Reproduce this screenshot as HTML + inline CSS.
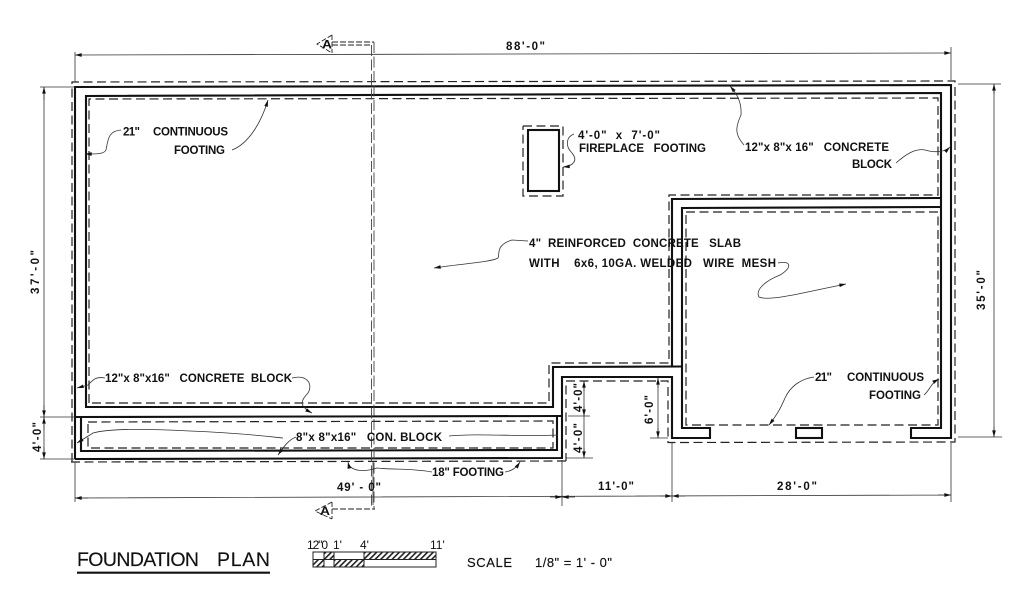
<!DOCTYPE html>
<html>
<head>
<meta charset="utf-8">
<style>
html,body{margin:0;padding:0;background:#fff;width:1024px;height:600px;overflow:hidden}
svg{display:block;filter:blur(.3px)}
text{font-family:"Liberation Sans",sans-serif;fill:#111;white-space:pre}
.b{font-weight:bold;font-size:11.5px}
.r{font-size:13px;stroke:#111;stroke-width:.15}
.w{fill:none;stroke:#111;stroke-width:2.1;stroke-linejoin:miter}
.d{fill:none;stroke:#222;stroke-width:1.2;stroke-dasharray:9 4.5}
.s{fill:none;stroke:#444;stroke-width:.9;stroke-dasharray:11 3.500}
.t{fill:none;stroke:#333;stroke-width:.8}
.l{fill:none;stroke:#333;stroke-width:.8}
</style>
</head>
<body>
<svg width="1024" height="600" viewBox="0 0 1024 600" xmlns="http://www.w3.org/2000/svg">
<defs>
<marker id="a" viewBox="0 0 8 6" refX="8" refY="3" markerWidth="7" markerHeight="5" markerUnits="userSpaceOnUse" orient="auto"><path d="M0 .8L8 3L0 5.2Z" fill="#111"/></marker>
<marker id="as" viewBox="0 0 8 6" refX="0" refY="3" markerWidth="7" markerHeight="5" markerUnits="userSpaceOnUse" orient="auto"><path d="M8 .8L0 3L8 5.2Z" fill="#111"/></marker>
<pattern id="h" width="4" height="4" patternUnits="userSpaceOnUse" patternTransform="rotate(45)"><rect width="4" height="4" fill="#fff"/><rect width="1.6" height="4" fill="#222"/></pattern>
</defs>
<rect width="1024" height="600" fill="#fff"/>

<!-- walls -->
<path class="w" d="M682 366.5L553 367L553 407L86 407L86 96L941 93L941 428L911 428L911 438L951 438L951 85L75 87L75 459"/>
<path class="w" d="M75 459L562 458L562 377L672 377L672 438L710 438L710 428L682 428L682 208L941 207"/>
<path class="w" d="M672 366L672 199L941 198"/>
<path class="w" d="M75 417L562 416"/>
<path class="w" d="M81 417L81 451L557 450L557 416"/>
<rect class="w" x="796" y="428" width="26" height="10"/>
<rect class="w" x="528" y="130" width="31" height="61"/>

<!-- footing dashes -->
<path class="d" d="M566 461L70 462M72 462L72 82L955 81L955 442L668 442.5L668 381L566 381L566 461"/>
<path class="d" d="M89 403L89 99L938 98L938 195L669 195L669 363L549 363L549 403L89 403"/>
<path class="d" d="M686 212L938 212L938 425L686 425L686 212"/>
<path class="d" d="M88 422L553 421L553 448L88 448L88 422"/>
<path class="d" d="M523 126L563 126L563 196L523 196L523 126"/>

<!-- section line A -->
<path class="s" d="M371.5 45L371.5 507M374 42L374 509"/>
<path class="d" style="stroke-dasharray:6 2;stroke-width:.9" d="M332 42L374 42M332 45L371 45M332 509L375 509"/>
<path class="d" style="stroke-dasharray:5 2;stroke-width:.9" d="M332 35L317 44L332 53M332 35L332 53M332 502L315 511L332 519M332 502L332 519"/>
<text class="b" x="322" y="48.500" textLength="10" lengthAdjust="spacingAndGlyphs">A</text>
<text class="b" x="320" y="515" textLength="10" lengthAdjust="spacingAndGlyphs">A</text>

<!-- dimensions -->
<path class="t" d="M75 55L951 53" marker-start="url(#as)" marker-end="url(#a)"/>
<path class="t" d="M75 52L75 82M951 47L951 80M40 87L75 87M40 417L75 417M40 459L75 459M44 87L44 459"/>
<path class="t" d="M44 87L44 100" marker-start="url(#as)"/>
<path class="t" d="M44 417L44 405" marker-start="url(#as)"/>
<path class="t" d="M44 417L44 430" marker-start="url(#as)"/>
<path class="t" d="M44 459L44 447" marker-start="url(#as)"/>
<path class="t" d="M958 84L1001 84M958 437L1002 437M994 84L994 437"/>
<path class="t" d="M994 84L994 94" marker-start="url(#as)"/>
<path class="t" d="M994 437L994 427" marker-start="url(#as)"/>
<path class="t" d="M75 498L951 495M75 462L75 502M562 460L562 506M672 443L672 502M951 443L951 502M373 505L373 462"/>
<path class="t" d="M75 498L88 498" marker-start="url(#as)"/>
<path class="t" d="M562 497L550 497" marker-start="url(#as)"/>
<path class="t" d="M562 497L575 497" marker-start="url(#as)"/>
<path class="t" d="M672 496L660 496" marker-start="url(#as)"/>
<path class="t" d="M672 496L685 496" marker-start="url(#as)"/>
<path class="t" d="M951 495L938 495" marker-start="url(#as)"/>
<path class="t" d="M584 381L584 458M568 416L590 416M566 458L593 458"/>
<path class="t" d="M584 381L584 391" marker-start="url(#as)"/>
<path class="t" d="M584 416L584 406" marker-start="url(#as)"/>
<path class="t" d="M584 458L584 448" marker-start="url(#as)"/>
<path class="t" d="M658 378L658 438M650 438L668 438"/>
<path class="t" d="M658 378L658 388" marker-start="url(#as)"/>
<path class="t" d="M658 438L658 428" marker-start="url(#as)"/>

<!-- leaders -->
<path class="l" marker-end="url(#a)" d="M121 130C108 131 108 140 106 150C104 154 98 154 85 154"/>
<path class="l" marker-end="url(#a)" d="M232 150C250 143 262 120 268 100"/>
<path class="l" marker-end="url(#a)" d="M574 134C566 137 565 146 572 153C578 160 574 166 563 167"/>
<path class="l" marker-end="url(#a)" d="M744 145C735 135 735 128 741 115C742 100 735 92 730 86"/>
<path class="l" marker-end="url(#a)" d="M896 163C905 155 915 148 925 150C935 153 945 152 950 147"/>
<path class="l" marker-end="url(#a)" d="M528 241L512 240C495 245 500 255 498 258C492 262 460 264 434 268"/>
<path class="l" marker-end="url(#a)" d="M778 263C792 260 792 268 780 275C765 281 755 290 759 297C770 302 810 291 846 284"/>
<path class="l" marker-end="url(#a)" d="M105 378C95 376 92 381 88 385L77 388"/>
<path class="l" marker-end="url(#a)" d="M292 378C308 374 313 385 308 393C302 400 297 405 312 413"/>
<path class="l" marker-end="url(#a)" d="M283 438C265 436 240 433 190 431C150 429 110 428 93 433L77 443"/>
<path class="l" marker-end="url(#a)" d="M296 437C288 440 283 448 278 455"/>
<path class="l" d="M449 436C480 433 520 437 558 435"/>
<path class="l" marker-end="url(#a)" d="M432 472C410 468 395 470 377 468C365 472 350 472 348 462"/>
<path class="l" marker-end="url(#a)" d="M505 472C512 471 516 468 520 462"/>
<path class="l" marker-end="url(#a)" d="M814 377C800 379 790 387 785 398C781 407 779 412 769 425"/>
<path class="l" marker-end="url(#a)" d="M924 395C930 390 930 384 939 379"/>

<!-- labels -->
<text class="b" x="123" y="135.500" textLength="17" lengthAdjust="spacing">21"</text>
<text class="b" x="153" y="135.500" textLength="75" lengthAdjust="spacing">CONTINUOUS</text>
<text class="b" x="174" y="154" textLength="51" lengthAdjust="spacing">FOOTING</text>
<text class="b" x="578" y="139" textLength="82" lengthAdjust="spacing">4'-0"  x  7'-0"</text>
<text class="b" x="579" y="152" textLength="127" lengthAdjust="spacing">FIREPLACE   FOOTING</text>
<text class="b" x="745" y="151" textLength="144" lengthAdjust="spacing">12"x 8"x 16"   CONCRETE</text>
<text class="b" x="852" y="168" textLength="40" lengthAdjust="spacing">BLOCK</text>
<text class="b" x="529" y="247" textLength="212" lengthAdjust="spacing">4"  REINFORCED  CONCRETE   SLAB</text>
<text class="b" x="529" y="267" textLength="247" lengthAdjust="spacing">WITH    6x6, 10GA. WELDED   WIRE  MESH</text>
<text class="b" x="105" y="382" textLength="187" lengthAdjust="spacing">12"x 8"x16"   CONCRETE  BLOCK</text>
<text class="b" x="296" y="441" textLength="146" lengthAdjust="spacing">8"x 8"x16"   CON. BLOCK</text>
<text class="b" x="432" y="476" textLength="72" lengthAdjust="spacing">18" FOOTING</text>
<text class="b" x="337" y="491" textLength="44" lengthAdjust="spacing">49' - 0"</text>
<text class="b" x="598" y="490" textLength="36" lengthAdjust="spacing">11'-0"</text>
<text class="b" x="777" y="490" textLength="40" lengthAdjust="spacing">28'-0"</text>
<text class="b" x="815" y="381" textLength="17" lengthAdjust="spacing">21"</text>
<text class="b" x="847" y="381" textLength="77" lengthAdjust="spacing">CONTINUOUS</text>
<text class="b" x="869" y="399" textLength="52" lengthAdjust="spacing">FOOTING</text>
<text class="b" x="506" y="50" textLength="39" lengthAdjust="spacing">88'-0"</text>
<text class="b" transform="translate(39 294) rotate(-90)" textLength="44" lengthAdjust="spacing">37'-0"</text>
<text class="b" transform="translate(41 452) rotate(-90)" textLength="30" lengthAdjust="spacing">4'-0"</text>
<text class="b" transform="translate(985 310) rotate(-90)" textLength="40" lengthAdjust="spacing">35'-0"</text>
<text class="b" transform="translate(582 412) rotate(-90)" textLength="29" lengthAdjust="spacing">4'-0"</text>
<text class="b" transform="translate(582 453) rotate(-90)" textLength="30" lengthAdjust="spacing">4'-0"</text>
<text class="b" transform="translate(653 424) rotate(-90)" textLength="29" lengthAdjust="spacing">6'-0"</text>

<!-- title -->
<text class="r" x="77" y="566" style="font-size:19.5px" textLength="122" lengthAdjust="spacing">FOUNDATION</text>
<text class="r" x="217" y="566" style="font-size:19.5px" textLength="53" lengthAdjust="spacing">PLAN</text>
<path d="M77 572.700L270 572.700" stroke="#111" stroke-width="2.2" fill="none"/>

<!-- scale bar -->
<rect x="324" y="552" width="10" height="7.500" fill="url(#h)"/>
<rect x="364" y="552" width="72" height="7.500" fill="url(#h)"/>
<rect x="313" y="559.500" width="11" height="7.500" fill="url(#h)"/>
<rect x="334" y="559.500" width="30" height="7.500" fill="url(#h)"/>
<path fill="none" stroke="#222" stroke-width="1" d="M313 552H436V567H313ZM313 559.500H436M324 552V567M334 552V567M364 552V567"/>
<text x="307" y="549" style="font-size:12px" textLength="21" lengthAdjust="spacing">12"0</text>
<text x="333" y="549" style="font-size:12px">1'</text>
<text x="360" y="549" style="font-size:12px">4'</text>
<text x="430" y="549" style="font-size:12px">11'</text>
<text class="r" x="467" y="567" textLength="45" lengthAdjust="spacing">SCALE</text>
<text class="r" x="535" y="567" textLength="77" lengthAdjust="spacing">1/8" = 1' - 0"</text>
</svg>
</body>
</html>
